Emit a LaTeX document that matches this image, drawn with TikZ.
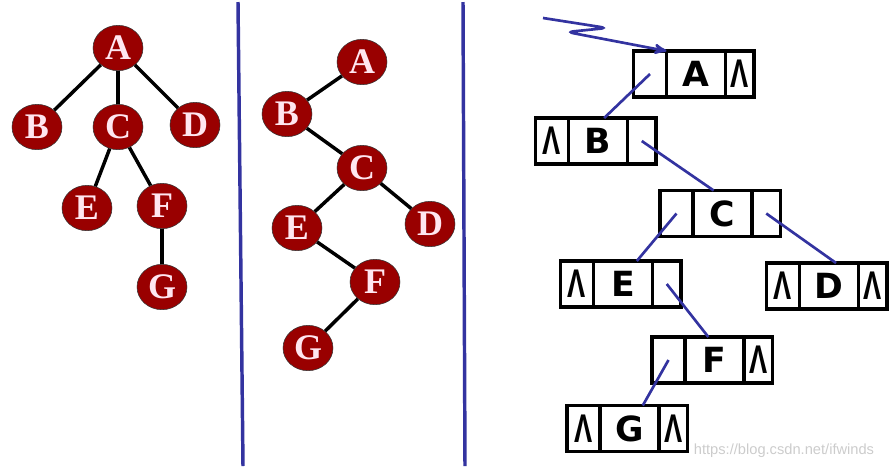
\documentclass[tikz,border=0pt]{standalone}
\usepackage{fontspec}
\setmainfont{Liberation Serif}
\setsansfont{DejaVu Sans}
\newfontfamily\markfont{Liberation Sans}
\usepackage{tikz}
\usetikzlibrary{arrows,positioning,shapes.geometric}
\definecolor{nodered}{RGB}{153,0,0}
\definecolor{nodetext}{RGB}{255,230,240}
\definecolor{linkblue}{RGB}{51,51,160}
\newcommand{\nullmark}{\scalebox{0.68}[1]{\markfont\fontsize{30}{30}\selectfont Λ}}

\begin{document}
\begin{tikzpicture}[x=0.75pt,y=-0.75pt,>=stealth',
    tree node/.style={ellipse,draw=black!80,thin,fill=nodered,text=nodetext,
      minimum width=37.5pt,minimum height=34pt,inner sep=0pt,
      font=\rmfamily\bfseries\fontsize{27}{27}\selectfont},
    tree edge/.style={line width=2.6pt},
    data cell/.style={draw,line width=2.8pt,outer sep=0pt,inner sep=0pt,
      minimum width=44.25pt,minimum height=34.5pt,
      font=\sffamily\bfseries\fontsize{26}{26}\selectfont},
    left cell/.style={data cell,minimum width=24.75pt},
    right cell/.style={data cell,minimum width=21.4pt},
    link/.style={draw=linkblue,line width=2pt},
    divider/.style={draw=linkblue,line width=2.6pt}]

  \useasboundingbox (0,0) rectangle (890,469);

  % general tree
  \node[tree node] (A1) at (118,48) {A};
  \node[tree node] (B1) at (37,127) {B};
  \node[tree node] (C1) at (118,127) {C};
  \node[tree node] (D1) at (195,125) {D};
  \node[tree node] (E1) at (87,208) {E};
  \node[tree node] (F1) at (162,206) {F};
  \node[tree node] (G1) at (162,287) {G};

  \path[tree edge]
    (A1) edge (B1)
         edge (C1)
         edge (D1)
    (C1) edge (E1)
         edge (F1)
    (F1) edge (G1)
  ;

  \draw[divider] (238,2) -- (243,466);

  % binary tree
  \node[tree node] (A2) at (362,62) {A};
  \node[tree node] (B2) at (287,114) {B};
  \node[tree node] (C2) at (362,168) {C};
  \node[tree node] (D2) at (430,224) {D};
  \node[tree node] (E2) at (297,228) {E};
  \node[tree node] (F2) at (375,282) {F};
  \node[tree node] (G2) at (308,348) {G};

  \path[tree edge]
    (A2) edge (B2)
    (B2) edge (C2)
    (C2) edge (E2)
         edge (D2)
    (E2) edge (F2)
    (F2) edge (G2)
  ;

  \draw[divider] (463,2) -- (465,466);

  % linked storage
  \node[data cell] (dA) at (696,74) {A};
  \node[left cell,left=0pt of dA] (lA) {};
  \node[right cell,right=0pt of dA] (rA) {\nullmark};

  \node[data cell] (dB) at (598,141) {B};
  \node[left cell,left=0pt of dB] (lB) {\nullmark};
  \node[right cell,right=0pt of dB] (rB) {};

  \node[data cell] (dC) at (722.5,213.5) {C};
  \node[left cell,left=0pt of dC] (lC) {};
  \node[right cell,right=0pt of dC] (rC) {};

  \node[data cell] (dE) at (623,284) {E};
  \node[left cell,left=0pt of dE] (lE) {\nullmark};
  \node[right cell,right=0pt of dE] (rE) {};

  \node[data cell] (dD) at (829,286) {D};
  \node[left cell,left=0pt of dD] (lD) {\nullmark};
  \node[right cell,right=0pt of dD] (rD) {\nullmark};

  \node[data cell] (dF) at (714.5,360) {F};
  \node[left cell,left=0pt of dF] (lF) {};
  \node[right cell,right=0pt of dF] (rF) {\nullmark};

  \node[data cell] (dG) at (629.5,428.5) {G};
  \node[left cell,left=0pt of dG] (lG) {\nullmark};
  \node[right cell,right=0pt of dG] (rG) {\nullmark};

  \path[link]
    (lA.center) edge (dB.75)
    (rB.center) edge (dC.111)
    (lC.center) edge (dE.59)
    (rC.center) edge (dD.73)
    (rE.center) edge (dF.105)
    (lF.center) edge (dG.60)
  ;

  \coordinate (head) at (543,18);
  \draw[link,->,rounded corners=5pt] (head) -- (607,28) -- (567,32) -- (lA.north east);

  \node[text=gray!40,font=\markfont\fontsize{11}{11}\selectfont] (mark) at (784,451) {https://blog.csdn.net/ifwinds};

\end{tikzpicture}
\end{document}
